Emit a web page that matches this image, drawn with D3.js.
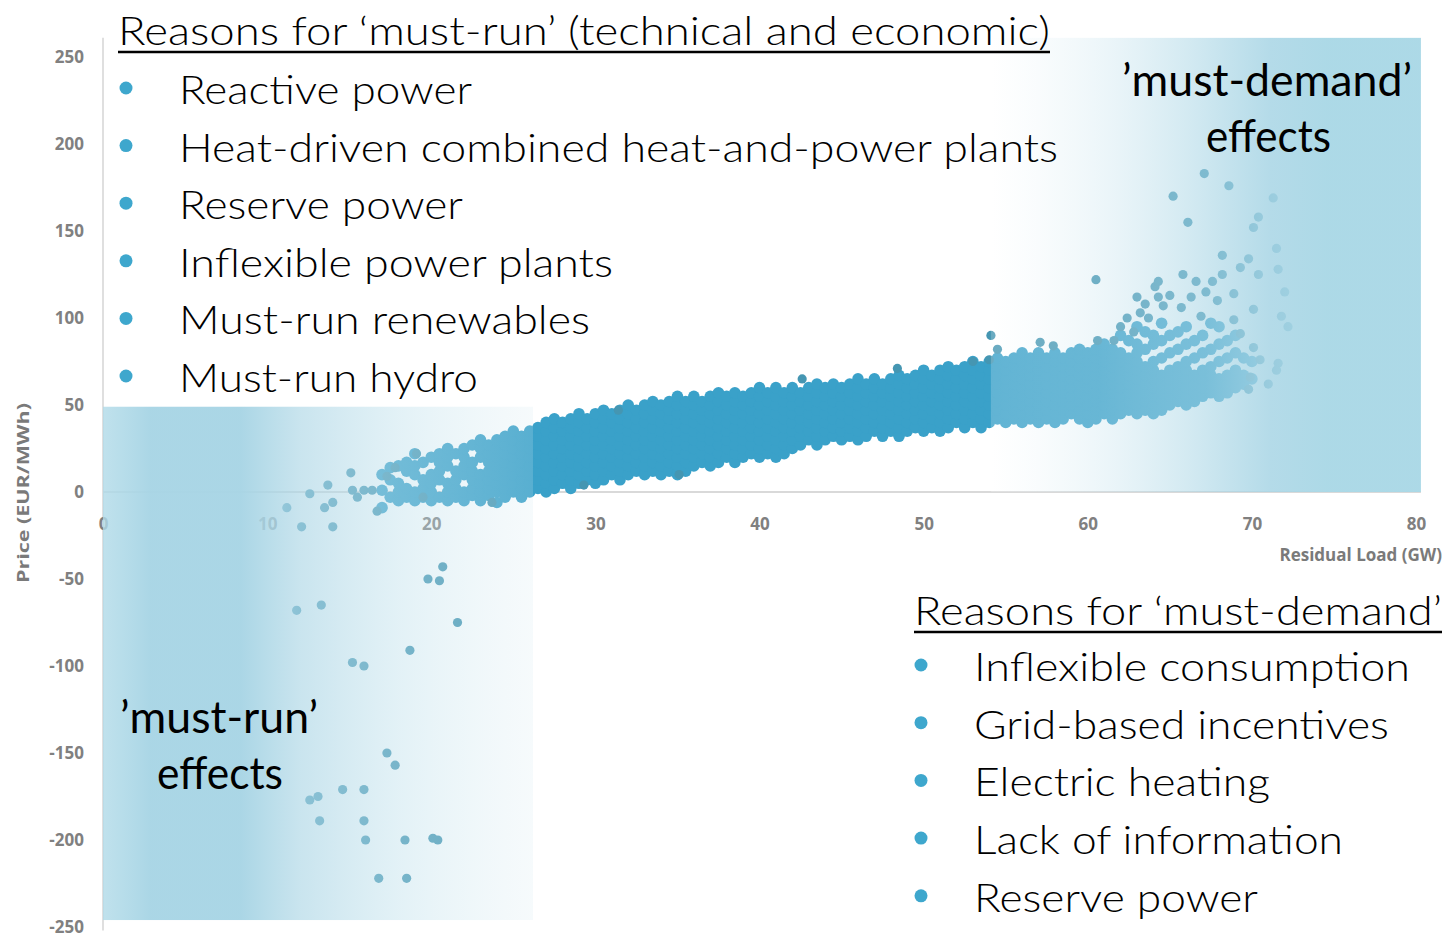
<!DOCTYPE html>
<html>
<head>
<meta charset="utf-8">
<script src="https://cdn.jsdelivr.net/npm/d3@7"></script>
<style>
  html, body { margin: 0; padding: 0; background: #fff; }
  svg { display: block; }
</style>
</head>
<body>
<div class="chart"></div>
<script>
const xTicks = [0, 10, 20, 30, 40, 50, 60, 70, 80];
const yTicks = [250, 200, 150, 100, 50, 0, -50, -100, -150, -200, -250];

const mustRunReasons = [
  "Reactive power",
  "Heat-driven combined heat-and-power plants",
  "Reserve power",
  "Inflexible power plants",
  "Must-run renewables",
  "Must-run hydro"
];
const mustDemandReasons = [
  "Inflexible consumption",
  "Grid-based incentives",
  "Electric heating",
  "Lack of information",
  "Reserve power"
];

// dense cloud of hourly prices, one column per load value: [load GW, price, price, ...]
const bandColumns = [
  [17, -9, 1, 10], [17.5, -3, 7, 14], [18, -5, 0, 5, 15], [18.5, -3, 2, 12, 17],
  [19, -5, 0, 10, 15, 22], [19.5, -3, 2, 7, 17], [20, -5, 0, 5, 10, 20], [20.5, -3, 7, 12, 17, 22],
  [21, -5, 0, 5, 15, 20, 25], [21.5, -3, 2, 7, 12, 22], [22, -5, 0, 10, 15, 20, 25],
  [22.5, -2, 2, 7, 12, 17, 27], [23, -5, 0, 5, 10, 20, 25, 30], [23.5, -2, 2, 7, 12, 17, 22, 27],
  [24, -6, 0, 5, 10, 15, 20, 25, 30], [24.5, -3, 2, 7, 12, 17, 22, 27, 32],
  [25, 0, 5, 10, 15, 20, 25, 30, 35], [25.5, -3, 2, 7, 12, 17, 22, 27, 32],
  [26, 0, 5, 10, 15, 20, 25, 30, 35], [26.5, 2, 7, 12, 17, 22, 27, 32, 37],
  [27, 0, 5, 10, 15, 20, 25, 30, 35, 40], [27.5, 2, 7, 12, 17, 22, 27, 32, 37, 42],
  [28, 5, 10, 15, 20, 25, 30, 35, 40], [28.5, 2, 7, 12, 17, 22, 27, 32, 37, 42],
  [29, 5, 10, 15, 20, 25, 30, 35, 40, 45], [29.5, 7, 12, 17, 22, 27, 32, 37, 42],
  [30, 5, 10, 15, 20, 25, 30, 35, 40, 45], [30.5, 7, 12, 17, 22, 27, 32, 37, 42, 47],
  [31, 10, 15, 20, 25, 30, 35, 40, 45], [31.5, 7, 12, 17, 22, 27, 32, 37, 42, 47],
  [32, 10, 15, 20, 25, 30, 35, 40, 45, 50], [32.5, 12, 17, 22, 27, 32, 37, 42, 47],
  [33, 10, 15, 20, 25, 30, 35, 40, 45, 50], [33.5, 12, 17, 22, 27, 32, 37, 42, 47, 52],
  [34, 10, 15, 20, 25, 30, 35, 40, 45, 50], [34.5, 12, 17, 22, 27, 32, 37, 42, 47, 52],
  [35, 10, 15, 20, 25, 30, 35, 40, 45, 50, 55], [35.5, 12, 17, 22, 27, 32, 37, 42, 47, 52],
  [36, 15, 20, 25, 30, 35, 40, 45, 50, 55], [36.5, 17, 22, 27, 32, 37, 42, 47, 52],
  [37, 15, 20, 25, 30, 35, 40, 45, 50, 55], [37.5, 17, 22, 27, 32, 37, 42, 47, 52, 57],
  [38, 20, 25, 30, 35, 40, 45, 50, 55], [38.5, 17, 22, 27, 32, 37, 42, 47, 52, 57],
  [39, 20, 25, 30, 35, 40, 45, 50, 55], [39.5, 22, 27, 32, 37, 42, 47, 52, 57],
  [40, 20, 25, 30, 35, 40, 45, 50, 55, 60], [40.5, 22, 27, 32, 37, 42, 47, 52, 57],
  [41, 20, 25, 30, 35, 40, 45, 50, 55, 60], [41.5, 22, 27, 32, 37, 42, 47, 52, 57],
  [42, 25, 30, 35, 40, 45, 50, 55, 60], [42.5, 27, 32, 37, 42, 47, 52, 57],
  [43, 30, 35, 40, 45, 50, 55, 60], [43.5, 27, 32, 37, 42, 47, 52, 57, 62],
  [44, 30, 35, 40, 45, 50, 55, 60], [44.5, 32, 37, 42, 47, 52, 57, 62],
  [45, 30, 35, 40, 45, 50, 55, 60], [45.5, 32, 37, 42, 47, 52, 57, 62],
  [46, 30, 35, 40, 45, 50, 55, 60, 65], [46.5, 32, 37, 42, 47, 52, 57, 62],
  [47, 35, 40, 45, 50, 55, 60, 65], [47.5, 32, 37, 42, 47, 52, 57, 62],
  [48, 35, 40, 45, 50, 55, 60, 65], [48.5, 32, 37, 42, 47, 52, 57, 62, 67],
  [49, 35, 40, 45, 50, 55, 60, 65], [49.5, 37, 42, 47, 52, 57, 62, 67],
  [50, 35, 40, 45, 50, 55, 60, 65, 70], [50.5, 37, 42, 47, 52, 57, 62, 67],
  [51, 35, 40, 45, 50, 55, 60, 65, 70], [51.5, 37, 42, 47, 52, 57, 62, 67, 72],
  [52, 40, 45, 50, 55, 60, 65, 70], [52.5, 37, 42, 47, 52, 57, 62, 67, 72],
  [53, 40, 45, 50, 55, 60, 65, 70, 75], [53.5, 37, 42, 47, 52, 57, 62, 67, 72],
  [54, 40, 45, 50, 55, 60, 65, 70, 75], [54.5, 42, 47, 52, 57, 62, 67, 72, 77],
  [55, 40, 45, 50, 55, 60, 65, 70, 75], [55.5, 42, 47, 52, 57, 62, 67, 72, 77],
  [56, 40, 45, 50, 55, 60, 65, 70, 75, 80], [56.5, 42, 47, 52, 57, 62, 67, 72, 77],
  [57, 40, 45, 50, 55, 60, 65, 70, 75, 80], [57.5, 42, 47, 52, 57, 62, 67, 72, 77],
  [58, 40, 45, 50, 55, 60, 65, 70, 75, 80], [58.5, 42, 47, 52, 57, 62, 67, 72, 77],
  [59, 45, 50, 55, 60, 65, 70, 75, 80], [59.5, 42, 47, 52, 57, 62, 67, 72, 77, 82],
  [60, 40, 45, 50, 55, 60, 65, 70, 75, 80], [60.5, 42, 47, 52, 57, 62, 67, 72, 77, 82],
  [61, 45, 50, 55, 60, 65, 70, 75, 80, 85], [61.5, 42, 47, 52, 57, 62, 67, 72, 77, 82],
  [62, 45, 50, 55, 60, 65, 70, 75, 80, 90], [62.5, 47, 52, 57, 62, 67, 72, 77, 87],
  [63, 45, 50, 55, 60, 65, 70, 75, 80, 85, 95], [63.5, 47, 52, 57, 62, 67, 72, 82, 92],
  [64, 45, 50, 55, 60, 65, 70, 75, 85, 90], [64.5, 47, 52, 57, 62, 67, 77, 87, 97],
  [65, 50, 55, 60, 65, 70, 80, 90], [65.5, 52, 57, 62, 67, 72, 82, 92],
  [66, 50, 55, 60, 65, 70, 75, 85, 95], [66.5, 52, 57, 62, 67, 77, 87],
  [67, 55, 60, 65, 70, 80, 90], [67.5, 57, 62, 67, 72, 82, 97],
  [68, 55, 60, 65, 75, 85, 95], [68.5, 57, 62, 67, 77, 87],
  [69, 60, 65, 70, 80, 90], [69.5, 62, 67, 77], [70, 65, 75]
];

// isolated hours around zero price at low load
const nearZeroHours = [
  [11.2, -9], [12.1, -20], [12.6, -1], [13.5, -9], [13.7, 4], [14.0, -6], [14.0, -20],
  [15.1, 11], [15.2, 1], [15.5, -3], [15.9, 1], [16.4, 1], [16.7, -11], [17.3, 9],
  [17.8, 14], [19.1, 22], [19.5, -3], [23.7, -6], [29.3, 4], [35.1, 10], [31.4, 47]
];

// negative price hours ('must-run')
const negativeHours = [
  [20.7, -43], [19.8, -50], [20.5, -51], [21.6, -75], [11.8, -68], [13.3, -65],
  [18.7, -91], [15.2, -98], [15.9, -100], [17.3, -150], [17.8, -157], [12.6, -177],
  [13.1, -175], [14.6, -171], [15.9, -171], [13.2, -189], [15.9, -189], [16.0, -200],
  [18.4, -200], [20.1, -199], [20.4, -200], [16.8, -222], [18.5, -222]
];

// high price hours ('must-demand')
const scarcityHours = [
  [42.6, 65], [48.4, 71], [53.0, 75], [54.0, 76], [54.5, 82], [54.1, 90], [57.1, 86],
  [57.9, 84], [60.6, 87], [61.6, 87], [60.5, 122], [62.0, 95], [62.4, 100], [62.8, 92],
  [63.2, 103], [63.7, 100], [63.0, 112], [63.5, 108], [64.1, 118], [64.3, 121], [64.3, 112],
  [64.6, 107], [65.0, 113], [65.7, 106], [65.8, 125], [66.3, 112], [66.6, 121], [66.9, 101],
  [67.2, 115], [67.6, 121], [67.9, 110], [68.2, 125], [68.2, 136], [68.9, 114], [68.9, 99],
  [69.3, 91], [69.3, 129], [69.8, 134], [69.8, 59], [69.9, 66], [70.1, 83], [70.1, 105],
  [70.4, 125], [70.5, 76], [71.6, 74], [71.6, 128], [71.5, 140], [71.8, 101], [70.1, 152],
  [70.4, 158], [71.3, 169], [66.1, 155], [65.2, 170], [68.6, 176], [67.1, 183],
  [71.0, 62], [71.5, 70], [72.0, 115], [72.2, 95]
];

const W = 1446, H = 938;
const svg = d3.select(".chart").append("svg").attr("width", W).attr("height", H);

const x = d3.scaleLinear().domain([0, 80]).range([103, 1416]);
const y = d3.scaleLinear().domain([-250, 250]).range([927, 57]);

const FONT = "Lato, 'Open Sans', sans-serif";
const AXISFONT = "'Open Sans', 'Noto Sans', sans-serif";

// gradients for the two highlight boxes
const defs = svg.append("defs");
function gradient(id, stops) {
  const g = defs.append("linearGradient").attr("id", id)
    .attr("x1", 0).attr("x2", 1).attr("y1", 0).attr("y2", 0);
  stops.forEach(s => g.append("stop")
    .attr("offset", s[0]).attr("stop-color", s[1]).attr("stop-opacity", s[2]));
}
gradient("runGrad", [
  [0, "#b0dae8", 0.8], [0.11, "#a8d5e5", 0.97], [0.32, "#a8d5e5", 0.97],
  [0.46, "#aed7e6", 0.66], [0.69, "#bcdfeb", 0.42], [0.88, "#cae5ee", 0.28], [1, "#d2e8f0", 0.2]
]);
gradient("demandGrad", [
  [0, "#ffffff", 0.2], [0.25, "#c8e4ee", 0.32], [0.5, "#a8d5e5", 0.58],
  [0.65, "#a8d5e5", 0.86], [0.78, "#aad8e6", 0.97], [1, "#aad8e6", 0.97]
]);

// axis lines
svg.append("line")
  .attr("x1", x(0)).attr("x2", x(80.3)).attr("y1", y(0)).attr("y2", y(0))
  .attr("stroke", "#d9d9d9").attr("stroke-width", 2);
svg.append("line")
  .attr("x1", x(0)).attr("x2", x(0)).attr("y1", y(261)).attr("y2", y(-252))
  .attr("stroke", "#d4d4d4").attr("stroke-width", 1.5);

// tick labels
const xAxis = svg.append("g")
  .attr("transform", "translate(0,518)")
  .call(d3.axisBottom(x).tickValues(xTicks).tickSize(0).tickPadding(0).tickFormat(d => String(d)));
xAxis.select(".domain").remove();
const yAxis = svg.append("g")
  .attr("transform", "translate(84,0)")
  .call(d3.axisLeft(y).tickValues(yTicks).tickSize(0).tickPadding(0).tickFormat(d => String(d)));
yAxis.select(".domain").remove();
svg.selectAll(".tick text")
  .style("font-family", AXISFONT).style("font-size", "17px").style("font-weight", "bold")
  .attr("fill", "#808080");

svg.append("text")
  .attr("transform", "translate(29,493) rotate(-90)")
  .attr("text-anchor", "middle")
  .style("font-family", AXISFONT).style("font-size", "16px").style("font-weight", "bold")
  .attr("fill", "#7a7a7a")
  .attr("textLength", 180).attr("lengthAdjust", "spacingAndGlyphs")
  .text("Price (EUR/MWh)");
svg.append("text")
  .attr("x", 1442).attr("y", 561)
  .attr("text-anchor", "end")
  .style("font-family", AXISFONT).style("font-size", "17px").style("font-weight", "bold")
  .attr("fill", "#7a7a7a")
  .text("Residual Load (GW)");

// points
const bandPoints = [];
bandColumns.forEach(col => {
  col.slice(1).forEach(p => bandPoints.push([col[0], p]));
});
svg.append("g").selectAll("circle")
  .data(bandPoints)
  .join("circle")
    .attr("cx", d => x(d[0]))
    .attr("cy", d => y(d[1]))
    .attr("r", 5.8)
    .attr("fill", "#3aa1c9");
svg.append("g").selectAll("circle")
  .data(nearZeroHours.concat(negativeHours, scarcityHours))
  .join("circle")
    .attr("cx", d => x(d[0]))
    .attr("cy", d => y(d[1]))
    .attr("r", 4.6)
    .attr("fill", "#4596b2");

// highlight boxes
svg.append("rect")
  .attr("x", x(0)).attr("y", y(49))
  .attr("width", x(26.2) - x(0)).attr("height", y(-246) - y(49))
  .attr("fill", "url(#runGrad)");
svg.append("rect")
  .attr("x", x(54.1)).attr("y", y(261))
  .attr("width", x(80.3) - x(54.1)).attr("height", y(0) - y(261))
  .attr("fill", "url(#demandGrad)");

// annotation text
function addText(str, tx, ty, size, weight, width) {
  const t = svg.append("text")
    .attr("x", tx).attr("y", ty)
    .style("font-family", FONT).style("font-size", size + "px").style("font-weight", weight)
    .attr("fill", "#000")
    .text(str);
  if (width) t.attr("textLength", width).attr("lengthAdjust", "spacingAndGlyphs");
  return t;
}

addText("Reasons for \u2018must-run\u2019 (technical and economic)", 118, 45, 40, 300, 932);
svg.append("line").attr("x1", 118).attr("x2", 1050).attr("y1", 52).attr("y2", 52)
  .attr("stroke", "#000").attr("stroke-width", 2.5);

const leftWidths = [293, 879, 284, 434, 411, 299];
mustRunReasons.forEach((r, i) => {
  const cy = 88 + i * 57.6;
  svg.append("circle").attr("cx", 126).attr("cy", cy).attr("r", 6.5).attr("fill", "#3ea7cd");
  addText(r, 179, cy + 16, 40, 300, leftWidths[i]);
});

addText("Reasons for \u2018must-demand\u2019", 914, 625, 40, 300, 528);
svg.append("line").attr("x1", 914).attr("x2", 1442).attr("y1", 632).attr("y2", 632)
  .attr("stroke", "#000").attr("stroke-width", 2.5);

const rightWidths = [436, 415, 296, 369, 284];
mustDemandReasons.forEach((r, i) => {
  const cy = 665 + i * 57.7;
  svg.append("circle").attr("cx", 921).attr("cy", cy).attr("r", 6.5).attr("fill", "#3ea7cd");
  addText(r, 974, cy + 16, 40, 300, rightWidths[i]);
});

addText("\u2019must-demand\u2019", 1122, 96, 44, 400, 290);
addText("effects", 1206, 152, 44, 400, 125);
addText("\u2019must-run\u2019", 120, 733, 44, 400, 198);
addText("effects", 157, 789, 44, 400, 126);
</script>
</body>
</html>
